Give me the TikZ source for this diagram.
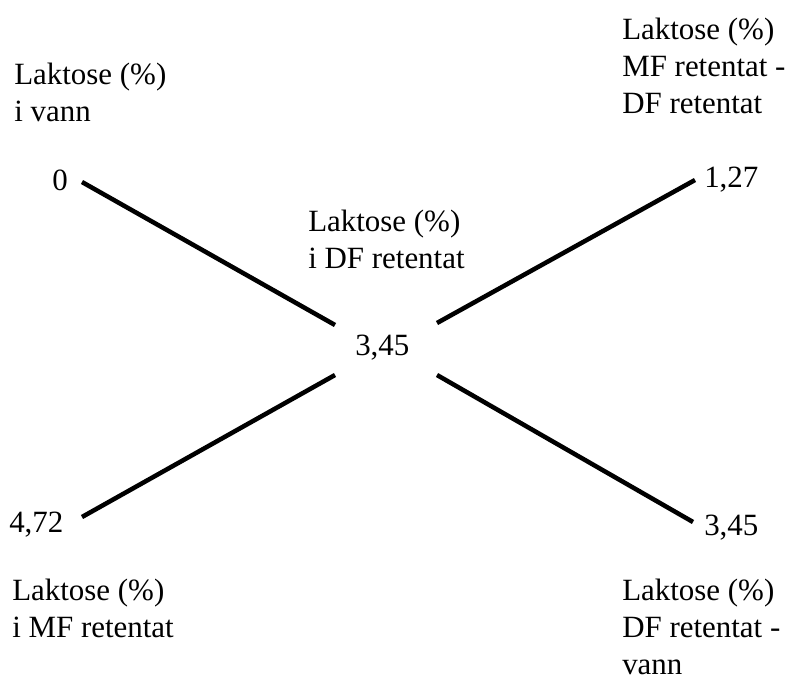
\documentclass[tikz,border=0pt]{standalone}
\usepackage{fontspec}
\setmainfont{Liberation Serif}
\tikzset{
	lbl/.style={anchor=base west, inner sep=0pt, align=left, font=\fontsize{23.2}{27.6}\selectfont},
	leg/.style={line width=3.4pt}
}
\begin{document}
\begin{tikzpicture}[x=0.75pt, y=-0.75pt]
		\useasboundingbox (0,0) rectangle (787,679);
		% Coordinates
		\coordinate (P_0) at (82, 182);
		\coordinate (P_1) at (695, 180);
		\coordinate (P_2) at (82, 517);
		\coordinate (P_3) at (693, 522);
		
		\coordinate (M_0) at (335, 325);
		\coordinate (M_1) at (437, 323);
		\coordinate (M_2) at (335, 375);
		\coordinate (M_3) at (437, 375);
		
		% Headings (anchored at the baseline of their last line)
		\node[lbl] (head_0) at (14, 121) {Laktose (\%)\\i vann};
		\node[lbl] (head_1) at (622, 113) {Laktose (\%)\\MF retentat -\\DF retentat};
		\node[lbl] (head_m) at (308, 268) {Laktose (\%)\\i DF retentat};
		\node[lbl] (head_2) at (12, 637) {Laktose (\%)\\i MF retentat};
		\node[lbl] (head_3) at (622, 674) {Laktose (\%)\\DF retentat -\\vann};
		
		% Values
		\node[lbl] (val_0) at (52, 190) {0};
		\node[lbl] (val_1) at (704, 187) {1,27};
		\node[lbl] (val_m) at (355, 355) {3,45};
		\node[lbl] (val_2) at (9, 532) {4,72};
		\node[lbl] (val_3) at (704, 535) {3,45};
		
		% Cross
		\draw[leg] (P_0) -- (M_0);
		\draw[leg] (M_1) -- (P_1);
		\draw[leg] (P_2) -- (M_2);
		\draw[leg] (M_3) -- (P_3);
	\end{tikzpicture}
\end{document}
